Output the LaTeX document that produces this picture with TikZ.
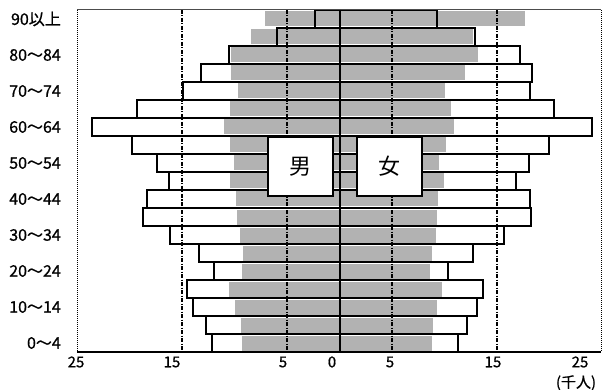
\documentclass[tikz,border=0pt]{standalone}
\usepackage{fontspec}
\newfontfamily\jp[FakeBold=0.8]{Noto Sans CJK JP}
\newfontfamily\jpbox{Noto Sans CJK JP}
\begin{document}
\begin{tikzpicture}[x=1pt,y=-1pt,
  barline/.style={line width=1.6pt,black},
  grayfill/.style={fill=black!30},
  grid/.style={line width=1.1pt,dash pattern=on 4pt off 1.5pt on 1pt off 1.5pt},
  agelab/.style={anchor=east,font=\jp\fontsize{16}{16}\selectfont,inner sep=0pt},
  axlab/.style={anchor=center,font=\jp\fontsize{15}{15}\selectfont,inner sep=0pt},
  sexbox/.style={draw,line width=1.5pt,fill=white,minimum width=65pt,minimum height=59pt,font=\jpbox\fontsize{22}{22}\selectfont}]
\useasboundingbox (0,0) rectangle (602,390);
\def\rows{0/315/265/437/525,1/277/251/475/473,2/229/231/520/478,3/201/231/532/465,4/183/238/530/445,5/137/230/554/451,6/92/224/592/454,7/132/230/549/446,8/157/234/529/439,9/169/230/516/444,10/147/236/530/438,11/143/237/531/437,12/170/240/504/436,13/199/243/473/432,14/214/242/448/430,15/187/229/483/442,16/193/235/477/437,17/206/241/467/433,18/212/242/458/432}
% white bars
\foreach \i/\mw/\mg/\fw/\fg in \rows {
  \fill[white] (\mw,{10+18*\i}) rectangle (340,{28+18*\i});
  \fill[white] (340,{10+18*\i}) rectangle (\fw,{28+18*\i});
}
% gray bars
\foreach \i/\mw/\mg/\fw/\fg in \rows {
  \fill[grayfill] (\mg,{11.5+18*\i}) rectangle (340,{26.5+18*\i});
  \fill[grayfill] (340,{11.5+18*\i}) rectangle (\fg,{26.5+18*\i});
}
% outlines
\foreach \i/\mw/\mg/\fw/\fg in \rows {
  \draw[barline] (\mw,{10+18*\i}) rectangle (340,{28+18*\i});
  \draw[barline] (340,{10+18*\i}) rectangle (\fw,{28+18*\i});
}
% grid lines
\foreach \gx in {182,287,392,497} \draw[grid] (\gx,10) -- (\gx,352);
% frame
\draw[line width=0.6pt,black!70] (77,9.5) -- (601,9.5);
\draw[line width=1pt,densely dotted] (77,10) -- (77,352);
\draw[line width=1pt,densely dotted] (601,10) -- (601,352);
\draw[line width=1.5pt] (77,352) -- (601,352);
\draw[line width=2pt] (340,10) -- (340,352);
% sex boxes
\node[sexbox] (male) at (300.5,166.5) {男};
\node[sexbox] (female) at (389.5,166.5) {女};
% age labels
\node[agelab] (a90) at (61,19) {90以上};
\node[agelab] (a80) at (61,55) {80～84};
\node[agelab] (a70) at (61,91) {70～74};
\node[agelab] (a60) at (61,127) {60～64};
\node[agelab] (a50) at (61,163) {50～54};
\node[agelab] (a40) at (61,199) {40～44};
\node[agelab] (a30) at (61,235) {30～34};
\node[agelab] (a20) at (61,271) {20～24};
\node[agelab] (a10) at (61,307) {10～14};
\node[agelab] (a0) at (61,343) {0～4};
% axis labels
\node[axlab] (x1) at (76,362) {25};
\node[axlab] (x2) at (172,362) {15};
\node[axlab] (x3) at (283,362) {5};
\node[axlab] (x4) at (332,362) {0};
\node[axlab] (x5) at (390,362) {5};
\node[axlab] (x6) at (493,362) {15};
\node[axlab] (x7) at (580,362) {25};
\node[axlab] (unit) at (576,383) {(千人)};
\end{tikzpicture}
\end{document}
